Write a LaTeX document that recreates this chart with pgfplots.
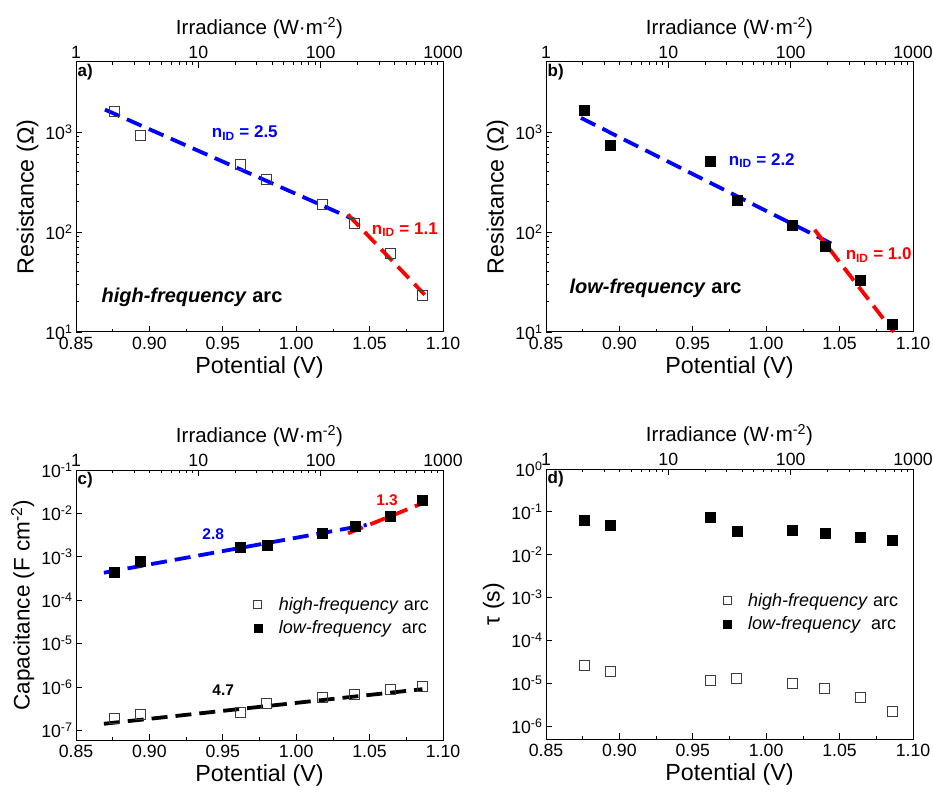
\documentclass[border=0pt]{standalone}
\usepackage{fontspec}
\setmainfont{Liberation Sans}
\usepackage{pgfplots}
\pgfplotsset{compat=1.18}
\definecolor{opengray}{RGB}{60,60,60}
\pgfplotsset{
  myaxis/.style={scale only axis, width=367pt, height=270pt, anchor=south west,
    xmin=0.85, xmax=1.10,
    tick align=inside, xtick pos=bottom, ytick pos=left,
    xtick={0.85,0.90,0.95,1.00,1.05,1.10},
    xticklabels={0.85,0.90,0.95,1.00,1.05,1.10},
    minor xtick={0.875,0.925,0.975,1.025,1.075},
    major tick length=6pt, minor tick length=3pt,
    every tick label/.append style={font=\fontsize{17.7}{20}\selectfont},
    xticklabel style={yshift=-1.5pt},
    yticklabel style={inner ysep=0pt},
    label style={font=\fontsize{23.3}{26}\selectfont},
    xlabel={Potential (V)},
    axis line style={line width=1pt}, every tick/.style={black, line width=0.8pt},
    clip=false},
  mytop/.style={scale only axis, width=367pt, height=270pt, anchor=south west,
    xmin=1, xmax=1000, ymin=0, ymax=1,
    axis x line*=top, axis y line=none,
    tick align=inside,
    xtick={1,10,100,1000}, xticklabels={1,10,100,1000},
    major tick length=6pt, minor tick length=3pt,
    every tick label/.append style={font=\fontsize{17.7}{20}\selectfont},
    xlabel={Irradiance (W·m\textsuperscript{-2})},
    label style={font=\fontsize{20.5}{23}\selectfont},
    axis line style={line width=1pt}, every tick/.style={black, line width=0.8pt}},
  myfit/.style={line width=3.8pt, dash pattern=on 16pt off 8pt},
  myopen/.style={only marks, mark=square, mark size=5pt, mark options={draw=opengray, line width=1pt, fill=none, solid}},
  myfill/.style={only marks, mark=square*, mark size=5pt, mark options={draw=black, fill=black, solid}},
  mylegend/.style={legend style={at={#1}, anchor=north west, draw=none, fill=none,
    font=\fontsize{18}{20}\selectfont, row sep=5pt,
    /tikz/every odd column/.append style={column sep=15pt}},
    legend cell align=left,
    legend image code/.code={\draw[##1, mark size=4pt] plot coordinates {(0pt,0pt)};}},
}
\tikzset{myann/.style={font=\bfseries\fontsize{17}{19}\selectfont},
  mynum/.style={font=\bfseries\fontsize{15.5}{18}\selectfont},
  myarc/.style={font=\bfseries\fontsize{20}{22}\selectfont},
  mypanel/.style={anchor=north west, inner sep=1.5pt, font=\bfseries\fontsize{17}{19}\selectfont}}
\begin{document}
\begin{tikzpicture}
\useasboundingbox (0pt,0pt) rectangle (933pt,793pt);
% ---------------- a)
\begin{semilogyaxis}[myaxis, at={(76pt,461pt)}, ymin=10, ymax=5000,
  ytick={10,100,1000}, yticklabels={10\textsuperscript{1},10\textsuperscript{2},10\textsuperscript{3}},
  ylabel={Resistance (Ω)}]
\addplot[myfit, blue] coordinates {(0.8697,1672) (1.040,132)};
\addplot[myfit, red] coordinates {(1.0353,149) (1.0875,23.6)};
\addplot[myopen] coordinates {(0.876,1585) (0.894,920) (0.962,475) (0.980,331) (1.018,188) (1.040,121) (1.064,61) (1.086,23.3)};
\node[myann, blue] at (axis cs:0.965,977) {n\textsubscript{ID} = 2.5};
\node[myann, red] at (axis cs:1.074,105) {n\textsubscript{ID} = 1.1};
\node[myarc] at (axis cs:0.929,22.2) {\textit{high-frequency} arc};
\node[mypanel] at (rel axis cs:0,1) {a)};
\end{semilogyaxis}
\begin{semilogxaxis}[mytop, at={(76pt,461pt)}]
\addplot[draw=none] coordinates {(1,0)};
\end{semilogxaxis}
% ---------------- b)
\begin{semilogyaxis}[myaxis, at={(546pt,461pt)}, ymin=10, ymax=5000,
  ytick={10,100,1000}, yticklabels={10\textsuperscript{1},10\textsuperscript{2},10\textsuperscript{3}},
  ylabel={Resistance (Ω)}]
\addplot[myfit, blue] coordinates {(0.8738,1380) (1.049,70.8)};
\addplot[myfit, red] coordinates {(1.033,105) (1.0868,10)};
\addplot[myfill] coordinates {(0.876,1634) (0.894,730) (0.962,505) (0.980,207) (1.018,116) (1.040,72) (1.064,33) (1.086,12.1)};
\node[myann, blue] at (axis cs:0.997,517) {n\textsubscript{ID} = 2.2};
\node[myann, red] at (axis cs:1.0766,59) {n\textsubscript{ID} = 1.0};
\node[myarc] at (axis cs:0.9246,27.1) {\textit{low-frequency} arc};
\node[mypanel] at (rel axis cs:0,1) {b)};
\end{semilogyaxis}
\begin{semilogxaxis}[mytop, at={(546pt,461pt)}]
\addplot[draw=none] coordinates {(1,0)};
\end{semilogxaxis}
% ---------------- c)
\begin{semilogyaxis}[myaxis, at={(76pt,53pt)}, ymin=6e-8, ymax=0.1, yminorticks=false,
  ytick={1e-7,1e-6,1e-5,1e-4,1e-3,1e-2,1e-1},
  yticklabels={10\textsuperscript{-7},10\textsuperscript{-6},10\textsuperscript{-5},10\textsuperscript{-4},10\textsuperscript{-3},10\textsuperscript{-2},10\textsuperscript{-1}},
  ylabel={Capacitance (F cm\textsuperscript{-2})},
  ylabel style={font=\fontsize{22.5}{25}\selectfont},
  mylegend={(0.476,0.545)}]
\addplot[myopen] coordinates {(0.876,1.91e-7) (0.894,2.28e-7) (0.962,2.59e-7) (0.980,4.25e-7) (1.018,5.73e-7) (1.040,6.84e-7) (1.064,8.61e-7) (1.086,1.03e-6)};
\addlegendentry{\textit{high-frequency} arc}
\addplot[myfill] coordinates {(0.876,4.33e-4) (0.894,7.76e-4) (0.962,1.66e-3) (0.980,1.81e-3) (1.018,3.48e-3) (1.040,4.96e-3) (1.064,8.43e-3) (1.086,1.97e-2)};
\addlegendentry{\textit{low-frequency}~ arc}
\addplot[myfit, blue, forget plot] coordinates {(0.869,4.3e-4) (1.048,5.42e-3)};
\addplot[myfit, red, forget plot] coordinates {(1.0353,3.48e-3) (1.086,1.71e-2)};
\addplot[myfit, black, forget plot] coordinates {(0.869,1.42e-7) (1.086,8.9e-7)};
\node[mynum, blue] at (axis cs:0.9435,3.3e-3) {2.8};
\node[mynum, red] at (axis cs:1.0619,2.04e-2) {1.3};
\node[mynum, black] at (axis cs:0.9503,8.6e-7) {4.7};
\node[mypanel] at (rel axis cs:0,1) {c)};
\end{semilogyaxis}
\begin{semilogxaxis}[mytop, at={(76pt,53pt)}]
\addplot[draw=none] coordinates {(1,0)};
\end{semilogxaxis}
% ---------------- d)
\begin{semilogyaxis}[myaxis, at={(546pt,54pt)}, ymin=5e-7, ymax=1, yminorticks=false,
  ytick={1e-6,1e-5,1e-4,1e-3,1e-2,1e-1,1},
  yticklabels={10\textsuperscript{-6},10\textsuperscript{-5},10\textsuperscript{-4},10\textsuperscript{-3},10\textsuperscript{-2},10\textsuperscript{-1},10\textsuperscript{0}},
  ylabel={τ (s)},
  ylabel style={font=\fontsize{23}{25}\selectfont},
  mylegend={(0.474,0.555)}]
\addplot[myopen] coordinates {(0.876,2.66e-5) (0.894,1.92e-5) (0.962,1.19e-5) (0.980,1.27e-5) (1.018,9.9e-6) (1.040,7.57e-6) (1.064,4.75e-6) (1.086,2.16e-6)};
\addlegendentry{\textit{high-frequency} arc}
\addplot[myfill] coordinates {(0.876,0.0653) (0.894,0.049) (0.962,0.0768) (0.980,0.0349) (1.018,0.0375) (1.040,0.0319) (1.064,0.0262) (1.086,0.0215)};
\addlegendentry{\textit{low-frequency}~ arc}
\node[mypanel] at (rel axis cs:0,1) {d)};
\end{semilogyaxis}
\begin{semilogxaxis}[mytop, at={(546pt,54pt)}]
\addplot[draw=none] coordinates {(1,0)};
\end{semilogxaxis}
\end{tikzpicture}
\end{document}
